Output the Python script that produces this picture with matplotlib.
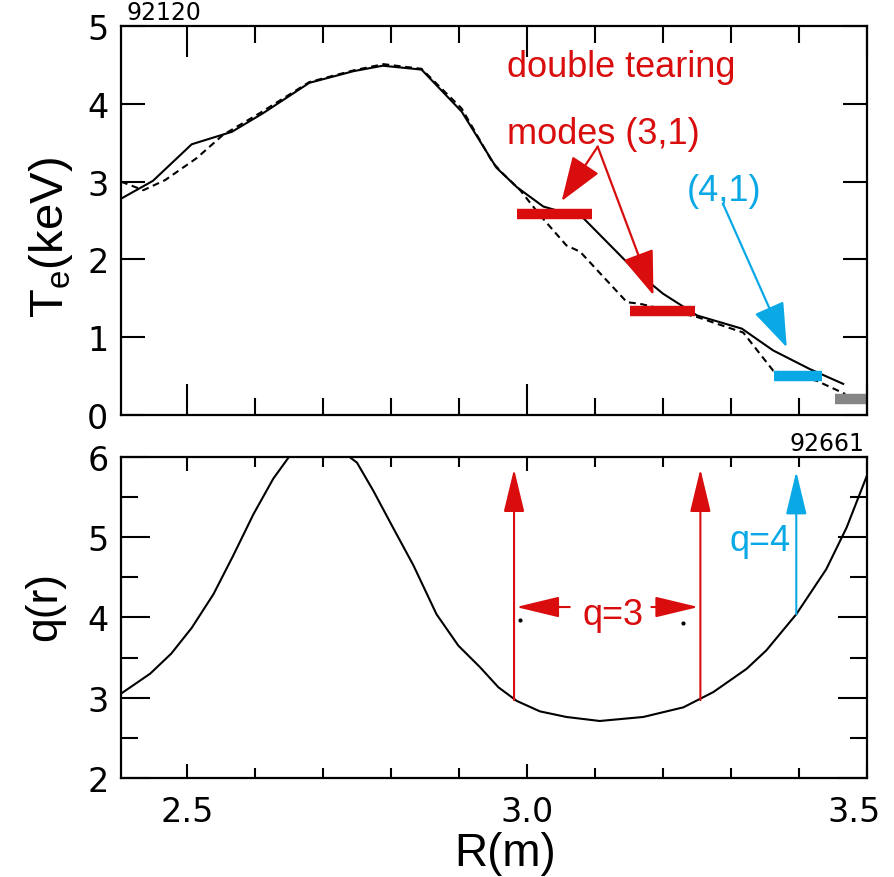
import matplotlib
matplotlib.use('Agg')
import matplotlib.pyplot as plt
from matplotlib.ticker import MultipleLocator
from matplotlib.transforms import ScaledTranslation

plt.rcParams['font.family'] = ['Liberation Sans', 'DejaVu Sans']
plt.rcParams['mathtext.default'] = 'regular'

RED = '#d90d0d'
BLUE = '#0aa9e6'
GRAY = '#858585'

# Te profile, shot 92120 (solid and dashed traces)
r_te_solid = [2.403, 2.45, 2.507, 2.566, 2.612, 2.68, 2.745, 2.788, 2.845, 2.904,
              2.955, 2.985, 3.024, 3.083, 3.161, 3.20, 3.25, 3.316, 3.362, 3.416, 3.465]
te_solid = [2.78, 3.01, 3.48, 3.64, 3.88, 4.27, 4.42, 4.49, 4.44, 3.90,
            3.18, 2.93, 2.68, 2.53, 1.84, 1.56, 1.28, 1.11, 0.83, 0.59, 0.40]

r_te_dash = [2.403, 2.436, 2.468, 2.514, 2.553, 2.607, 2.68, 2.745, 2.789, 2.845, 2.904,
             2.95, 2.965, 2.99, 3.019, 3.058, 3.078, 3.147, 3.166, 3.25, 3.294, 3.318,
             3.362, 3.426, 3.468]
te_dash = [3.00, 2.89, 3.02, 3.30, 3.60, 3.88, 4.28, 4.43, 4.51, 4.45, 3.94,
           3.24, 3.10, 2.89, 2.57, 2.18, 2.10, 1.45, 1.43, 1.26, 1.13, 1.06,
           0.57, 0.44, 0.27]

# island widths (R start, R end, Te level)
dtm_r0 = [2.986, 3.151]
dtm_r1 = [3.095, 3.247]
dtm_te = [2.58, 1.34]
m41_r = [3.363, 3.434]
m41_te = 0.50
edge_r = [3.453, 3.498]
edge_te = 0.21

# q profile, shot 92661
r_q = [2.403, 2.446, 2.477, 2.507, 2.539, 2.568, 2.598, 2.627, 2.650, 2.695, 2.739,
       2.75, 2.774, 2.803, 2.833, 2.867, 2.899, 2.931, 2.958, 2.985, 3.019, 3.058,
       3.107, 3.171, 3.23, 3.274, 3.323, 3.352, 3.396, 3.44, 3.47, 3.5]
q = [3.05, 3.30, 3.55, 3.87, 4.29, 4.77, 5.29, 5.73, 6.00, 6.50, 6.00,
     5.93, 5.58, 5.12, 4.65, 4.04, 3.65, 3.38, 3.13, 2.96, 2.83, 2.76,
     2.71, 2.76, 2.88, 3.07, 3.36, 3.59, 4.04, 4.60, 5.12, 5.77]

# rational surfaces
r_q3 = [2.981, 3.255]
r_q4 = 3.396
dots_r = [2.99, 3.23]
dots_q = [3.97, 3.93]

fig = plt.figure(figsize=(8.94, 8.78), dpi=100)
ax1 = fig.add_axes([0.1353, 0.5262, 0.8345, 0.4430])
ax2 = fig.add_axes([0.1353, 0.1128, 0.8345, 0.3656])

for ax in (ax1, ax2):
    ax.set_xlim(2.403, 3.5)
    for s in ax.spines.values():
        s.set_linewidth(1.6)
    ax.xaxis.set_major_locator(MultipleLocator(0.5))
    ax.xaxis.set_minor_locator(MultipleLocator(0.1))
    ax.tick_params(which='both', direction='in', top=True, right=True, width=1.5)
    ax.tick_params(axis='y', pad=9)
    ax.tick_params(axis='x', pad=12)

# ---- top panel: Te
ax1.plot(r_te_solid, te_solid, color='k', lw=1.5)
ax1.plot(r_te_dash, te_dash, color='k', lw=1.5, ls=(0, (3.3, 2.2)))
for r0, r1, t in zip(dtm_r0, dtm_r1, dtm_te):
    ax1.plot([r0, r1], [t, t], color=RED, lw=7.5, solid_capstyle='butt')
ax1.plot(m41_r, [m41_te, m41_te], color=BLUE, lw=7.5, solid_capstyle='butt')
ax1.plot(edge_r, [edge_te, edge_te], color=GRAY, lw=7.5, solid_capstyle='butt')

ax1.set_ylim(0, 5)
ax1.yaxis.set_major_locator(MultipleLocator(1))
ax1.tick_params(axis='x', which='major', length=22, labelbottom=False)
ax1.tick_params(axis='x', which='minor', length=12)
ax1.tick_params(axis='y', which='major', length=17)
ax1.set_ylabel('T$_e$(keV)', fontsize=34)
ax1.yaxis.set_label_coords(-0.062, 0.46)

ax1.text(2.971, 4.48, 'double tearing', color=RED, fontsize=26, va='center')
ax1.text(2.971, 3.62, 'modes (3,1)', color=RED, fontsize=26, va='center')
ax1.text(3.235, 2.89, '(4,1)', color=BLUE, fontsize=26, va='center')

red_arrow = dict(arrowstyle='-|>,head_length=28,head_width=10', mutation_scale=1,
                 color=RED, lw=1.6, shrinkA=0, shrinkB=0)
ax1.annotate('', xy=(3.051, 2.75), xytext=(3.104, 3.45), arrowprops=red_arrow)
ax1.annotate('', xy=(3.186, 1.54), xytext=(3.104, 3.45), arrowprops=red_arrow)
blue_arrow = dict(red_arrow, color=BLUE)
ax1.annotate('', xy=(3.382, 0.87), xytext=(3.288, 2.72), arrowprops=blue_arrow)

ax1.text(0.008, 1.005, '92120', transform=ax1.transAxes, fontsize=17,
         family='DejaVu Sans', ha='left', va='bottom')

# ---- bottom panel: q
ax2.plot(r_q, q, color='k', lw=1.5)
ax2.set_ylim(2, 6)
ax2.yaxis.set_major_locator(MultipleLocator(1))
ax2.yaxis.set_minor_locator(MultipleLocator(0.5))
ax2.tick_params(axis='x', which='major', length=10)
ax2.tick_params(axis='x', which='minor', length=7)
ax2.tick_params(axis='y', which='major', length=21)
ax2.tick_params(axis='y', which='minor', length=12)
ax2.set_xticks([2.5, 3.0, 3.5])
ax2.set_xticklabels(['2.5', '3.0', '3.5'])
ax2.set_ylabel('q(r)', fontsize=32)
ax2.yaxis.set_label_coords(-0.075, 0.536)
ax2.set_xlabel('R(m)', fontsize=33)
ax2.xaxis.set_label_coords(0.515, -0.165)

for ax in (ax1, ax2):
    for lab in ax.get_xticklabels() + ax.get_yticklabels():
        lab.set_family('DejaVu Sans')
        lab.set_fontsize(24)

# last x label sits a bit inside, as in the original
last = ax2.get_xticklabels()[-1]
last.set_transform(last.get_transform() + ScaledTranslation(-0.13, 0, fig.dpi_scale_trans))

v_red = dict(arrowstyle='-|>,head_length=27,head_width=6.5', mutation_scale=1,
             color=RED, lw=1.5, shrinkA=0, shrinkB=0)
for r in r_q3:
    ax2.annotate('', xy=(r, 5.85), xytext=(r, 2.97), arrowprops=v_red)
ax2.annotate('', xy=(r_q4, 5.82), xytext=(r_q4, 4.04),
             arrowprops=dict(v_red, color=BLUE))
ax2.annotate('', xy=(r_q3[0] + 0.003, 4.13), xytext=(3.063, 4.13), arrowprops=v_red)
ax2.annotate('', xy=(r_q3[1] - 0.003, 4.13), xytext=(3.183, 4.13), arrowprops=v_red)
ax2.text(3.127, 4.04, 'q=3', color=RED, fontsize=26, ha='center', va='center')
ax2.text(3.343, 4.96, 'q=4', color=BLUE, fontsize=26, ha='center', va='center')
ax2.plot(dots_r, dots_q, 'o', color='k', ms=2)

ax2.text(0.997, 1.005, '92661', transform=ax2.transAxes, fontsize=17,
         family='DejaVu Sans', ha='right', va='bottom')

fig.savefig('out.png', dpi=100)
